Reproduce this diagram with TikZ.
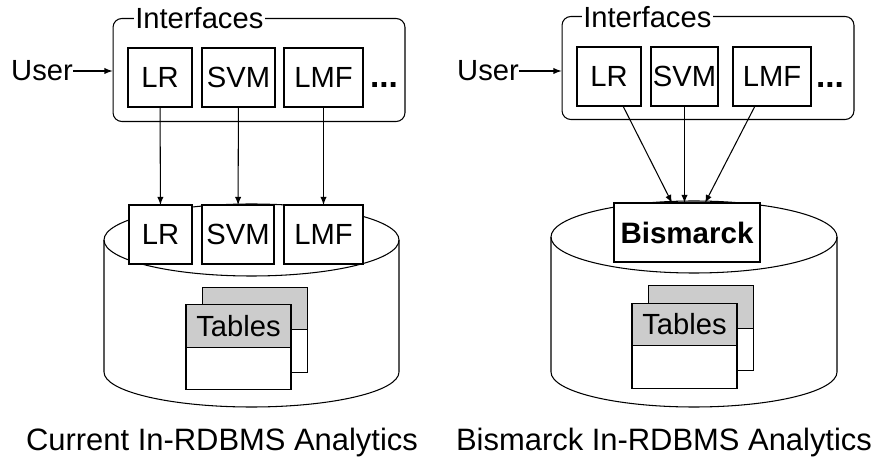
\documentclass[tikz,border=0pt]{standalone}
\usepackage{fontspec}
\setmainfont{Liberation Sans}
\usetikzlibrary{positioning}

\begin{document}
\begin{tikzpicture}[x=0.02cm,y=-0.02cm,>=latex,line width=0.6pt,
  txt/.style = {font=\fontsize{16.6}{19}\selectfont},
  box/.style = {draw, fill=white, txt, minimum height=1.18cm, inner sep=0pt, outer sep=0pt},
  ifbox/.style = {draw, rounded corners=5pt, minimum width=5.84cm, minimum height=2.06cm},
  thead/.style = {draw, fill=black!20, txt, minimum width=2.1cm, minimum height=0.85cm, inner sep=0pt, outer sep=0pt},
  tbody/.style = {draw, fill=white, minimum width=2.1cm, minimum height=0.85cm, inner sep=0pt, outer sep=0pt},
  caption/.style = {font=\fontsize{17.6}{21}\selectfont}]
\useasboundingbox (0,0) rectangle (878,465);

% left: current
\draw[fill=white] (104,240) -- (104,372) arc[start angle=180, end angle=0, x radius=147.5, y radius=35] -- (399,240);
\draw (251.5,240) ellipse [x radius=147.5, y radius=36];
\node[ifbox] (ifl) at (259,70) {};
\node[txt, fill=white, inner xsep=1pt, anchor=west] (itl) at (133,18) {Interfaces};
\node[box, minimum width=1.28cm] (lr1) at (160,77.5) {LR};
\node[box, minimum width=1.46cm] (svm1) at (238.5,77.5) {SVM};
\node[box, minimum width=1.58cm] (lmf1) at (323.5,77.5) {LMF};
\node[txt, anchor=base, font=\fontsize{19}{21}\selectfont\bfseries] (dots1) at (384,88) {...};
\node[txt, inner sep=0pt] (user1) at (42,71) {User};
\node[box, minimum width=1.26cm] (lr2) at (160.5,234.5) {LR};
\node[box, minimum width=1.44cm] (svm2) at (238,234.5) {SVM};
\node[box, minimum width=1.58cm] (lmf2) at (323.5,234.5) {LMF};
\node[thead] (th1) at (255,308.5) {};
\node[tbody, below=0pt of th1] (tb1) {};
\node[thead] (th2) at (238.5,326) {Tables};
\node[tbody, below=0pt of th2] (tb2) {};
\draw[->] (user1.east) -- (user1.east -| ifl.west);
\draw[->] (lr1) -- (lr2);
\draw[->] (svm1) -- (svm2);
\draw[->] (lmf1) -- (lmf2);
\node[caption] (capl) at (222,443) {Current In-RDBMS Analytics};

% right: bismarck
\draw[fill=white] (551,237) -- (551,372) arc[start angle=180, end angle=0, x radius=143, y radius=35] -- (837,237);
\draw (694,237) ellipse [x radius=143, y radius=36];
\node[ifbox] (ifr) at (708,68) {};
\node[txt, fill=white, inner xsep=1pt, anchor=west] (itr) at (581,17) {Interfaces};
\node[box, minimum width=1.28cm] (lr3) at (609,76.5) {LR};
\node[box, minimum width=1.34cm] (svm3) at (684.5,76.5) {SVM};
\node[box, minimum width=1.56cm] (lmf3) at (772,76.5) {LMF};
\node[txt, anchor=base, font=\fontsize{19}{21}\selectfont\bfseries] (dots2) at (830,88) {...};
\node[txt, inner sep=0pt] (user2) at (488,71) {User};
\node[box, minimum width=2.92cm, font=\fontsize{16.8}{19}\selectfont\bfseries] (bm) at (687,232.5) {Bismarck};
\node[thead] (th3) at (701,307) {};
\node[tbody, below=0pt of th3] (tb3) {};
\node[thead] (th4) at (684.5,324.5) {Tables};
\node[tbody, below=0pt of th4] (tb4) {};
\draw[->] (user2.east) -- (user2.east -| ifr.west);
\draw[->] ([xshift=0.28cm]lr3.south) -- ([xshift=-0.3cm]bm.north);
\draw[->] (svm3.south) -- (svm3.south |- bm.north);
\draw[->] ([xshift=-0.34cm]lmf3.south) -- ([xshift=0.36cm]bm.north);
\node[caption] (capr) at (664,443) {Bismarck In-RDBMS Analytics};
\end{tikzpicture}
\end{document}
